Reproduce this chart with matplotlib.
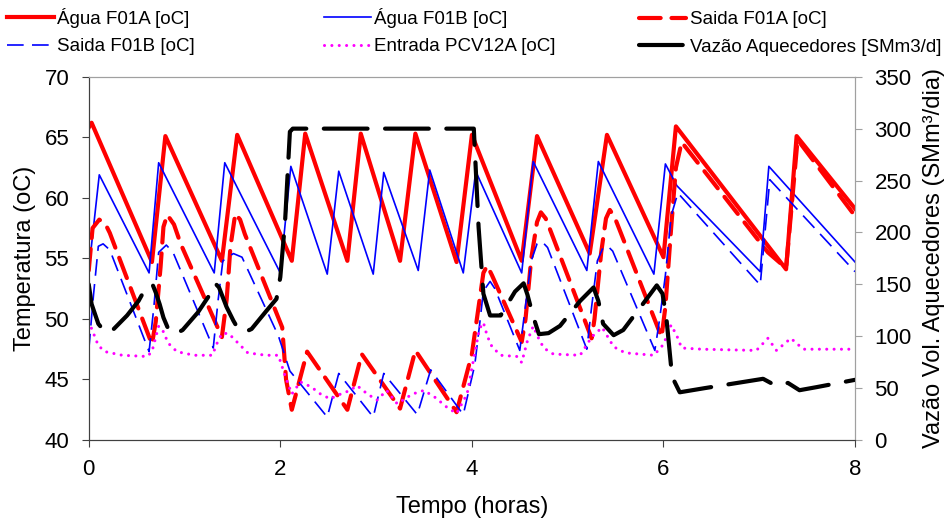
import matplotlib
matplotlib.use("Agg")
import matplotlib.pyplot as plt

plt.rcParams['font.family'] = ['Liberation Sans', 'DejaVu Sans']

# tempo (horas) e temperaturas
t_agua_a = [0.00, 0.03, 0.66, 0.80, 1.39, 1.55, 2.12, 2.26, 2.70, 2.84, 3.25, 3.41,
            3.84, 4.00, 4.52, 4.68, 5.23, 5.41, 6.00, 6.13, 7.28, 7.39, 8.00]
agua_a = [65.8, 66.2, 54.7, 65.1, 54.8, 65.2, 54.8, 65.3, 54.8, 65.3, 54.8, 65.3,
          54.7, 65.2, 54.8, 65.1, 55.4, 65.2, 55.1, 65.9, 54.1, 65.1, 59.1]

t_agua_b = [0.00, 0.11, 0.63, 0.73, 1.31, 1.42, 2.00, 2.11, 2.49, 2.61, 2.97, 3.08, 3.44,
            3.56, 3.91, 4.04, 4.52, 4.64, 5.20, 5.32, 5.90, 6.02, 6.14, 7.01, 7.10, 8.00]
agua_b = [54.0, 61.9, 53.8, 62.9, 53.8, 62.9, 53.8, 62.6, 53.7, 62.2, 53.7, 62.1, 54.0,
          62.3, 53.8, 62.2, 53.8, 63.0, 54.0, 63.0, 53.7, 62.8, 61.0, 53.9, 62.6, 54.7]

t_saida_a = [0.00, 0.04, 0.11, 0.17, 0.22, 0.66, 0.70, 0.75, 0.78, 0.82, 0.89, 0.96,
             1.39, 1.44, 1.48, 1.53, 1.58, 1.63, 2.02, 2.06, 2.12, 2.28, 2.70, 2.85,
             3.25, 3.41, 3.84, 4.00, 4.07, 4.12, 4.16, 4.21, 4.52, 4.56, 4.62, 4.68,
             4.72, 4.77, 4.82, 5.25, 5.28, 5.35, 5.40, 5.44, 5.49, 5.54, 5.98, 6.02,
             6.08, 6.13, 6.19, 7.09, 7.28, 7.40, 8.00]
saida_a = [54.0, 57.5, 58.2, 57.9, 57.1, 47.9, 49.8, 54.3, 57.6, 58.6, 57.8, 56.2,
           48.5, 51.6, 56.0, 58.7, 58.2, 57.0, 49.3, 45.0, 42.5, 47.3, 42.5, 47.1,
           42.6, 47.4, 42.3, 47.1, 51.0, 53.8, 54.4, 53.6, 48.1, 50.0, 55.0, 58.0,
           58.8, 58.3, 57.3, 48.4, 50.0, 55.5, 58.3, 59.0, 58.4, 57.4, 48.5, 51.0,
           57.5, 62.5, 64.6, 55.5, 54.2, 64.8, 58.5]

t_saida_b = [0.00, 0.05, 0.10, 0.15, 0.22, 0.63, 0.68, 0.73, 0.81, 0.88, 1.30, 1.35,
             1.40, 1.51, 1.60, 1.98, 2.10, 2.49, 2.61, 2.97, 3.08, 3.43, 3.57, 3.91,
             4.03, 4.08, 4.12, 4.19, 4.24, 4.50, 4.55, 4.62, 4.68, 4.73, 4.79, 5.20,
             5.25, 5.31, 5.37, 5.42, 5.47, 5.91, 5.96, 6.02, 6.08, 6.15, 7.01, 7.11, 8.00]
saida_b = [47.4, 52.0, 56.0, 56.2, 55.7, 47.3, 51.0, 55.5, 56.1, 55.5, 47.6, 51.5,
           54.8, 55.4, 55.1, 48.6, 45.7, 41.9, 45.5, 41.9, 45.5, 42.1, 45.8, 42.1,
           46.2, 49.5, 52.3, 53.1, 52.5, 47.4, 50.5, 54.8, 56.2, 56.4, 55.9, 47.5,
           51.0, 54.8, 55.9, 56.0, 55.6, 47.4, 50.0, 53.6, 58.5, 60.4, 52.8, 61.5, 53.9]

t_entrada = [0.00, 0.05, 0.10, 0.17, 0.35, 0.61, 0.66, 0.70, 0.73, 0.77,
             0.83, 0.92, 1.10, 1.29, 1.34, 1.39, 1.46, 1.56, 1.66, 1.85,
             1.98, 2.05, 2.12, 2.21, 2.32, 2.42, 2.52, 2.63, 2.73, 2.80,
             2.91, 3.01, 3.11, 3.22, 3.38, 3.50, 3.62, 3.74, 3.84, 3.95,
             4.03, 4.08, 4.12, 4.16, 4.21, 4.30, 4.47, 4.52, 4.58, 4.64,
             4.69, 4.75, 4.85, 5.13, 5.25, 5.36, 5.42, 5.48, 5.60, 5.90,
             6.00, 6.08, 6.14, 6.19, 6.40, 6.97, 7.09, 7.18, 7.33, 7.46, 8.00]
entrada = [49.8, 48.8, 47.8, 47.3, 47.0, 46.9, 47.3, 48.5, 49.4, 49.1,
           48.0, 47.3, 47.0, 47.0, 48.0, 48.8, 48.8, 48.0, 47.2, 47.0,
           47.0, 45.3, 43.8, 44.8, 44.4, 43.8, 43.4, 43.8, 44.1, 44.5,
           43.8, 43.3, 44.1, 43.0, 43.8, 44.1, 43.5, 42.7, 42.2, 43.8,
           47.2, 49.2, 49.7, 48.6, 47.7, 47.0, 46.9, 46.4, 48.2, 49.4,
           48.5, 47.6, 47.1, 47.0, 48.5, 49.3, 48.5, 47.7, 47.2, 47.0,
           47.9, 49.5, 48.6, 47.6, 47.5, 47.4, 48.4, 47.4, 48.4, 47.5, 47.5]

# vazao (eixo secundario)
t_vazao = [0.00, 0.03, 0.10, 0.17, 0.24, 0.40, 0.52, 0.61, 0.67, 0.70,
           0.74, 0.78, 0.83, 0.90, 0.98, 1.14, 1.27, 1.32, 1.36, 1.44,
           1.51, 1.56, 1.63, 1.70, 1.86, 1.96, 2.00, 2.05, 2.10, 2.13,
           4.02, 4.07, 4.12, 4.19, 4.30, 4.45, 4.54, 4.58, 4.64, 4.70,
           4.80, 4.92, 5.13, 5.27, 5.32, 5.37, 5.48, 5.58, 5.76, 5.93,
           5.99, 6.03, 6.09, 6.17, 6.43, 7.04, 7.16, 7.30, 7.42, 7.60, 8.00]
vazao = [150, 131, 112, 104, 105, 120, 134, 149, 149, 142,
         131, 118, 107, 102, 106, 123, 141, 151, 147, 128,
         115, 107, 104, 107, 125, 136, 157, 211, 297, 300,
         300, 205, 141, 120, 120, 143, 151, 140, 119, 102,
         103, 110, 134, 147, 134, 112, 101, 106, 128, 149,
         141, 118, 61, 46, 50, 59, 53, 55, 48, 51, 58]

x_ticks = [0, 2, 4, 6, 8]
temp_ticks = [40, 45, 50, 55, 60, 65, 70]
vazao_ticks = [0, 50, 100, 150, 200, 250, 300, 350]


def main():
    fig = plt.figure(figsize=(9.47, 5.22), dpi=100)
    ax = fig.add_axes([0.0937, 0.157, 0.8092, 0.696])
    ax2 = ax.twinx()

    l1, = ax.plot(t_agua_a, agua_a, color='#ff0000', lw=3, label='Água F01A [oC]')
    l2, = ax.plot(t_agua_b, agua_b, color='#0000ff', lw=1.2, label='Água F01B [oC]')
    l3, = ax.plot(t_saida_a, saida_a, color='#ff0000', lw=3, dashes=(5.2, 2.6),
                  dash_capstyle='round', label='Saida F01A [oC]')
    l4, = ax.plot(t_saida_b, saida_b, color='#0000ff', lw=1.2, dashes=(10, 5),
                  label='Saida F01B [oC]')
    l5, = ax.plot(t_entrada, entrada, color='#ff00ff', lw=2.2, dashes=(0.01, 2.4),
                  dash_capstyle='round', label='Entrada PCV12A [oC]')
    l6, = ax2.plot(t_vazao, vazao, color='black', lw=3, dashes=(10.5, 4.2),
                   dash_capstyle='round', label='Vazão Aquecedores [SMm3/d]')

    ax.set_xlim(0, 8)
    ax.set_ylim(40, 70)
    ax2.set_ylim(0, 350)
    ax.set_xticks(x_ticks)
    ax.set_yticks(temp_ticks)
    ax2.set_yticks(vazao_ticks)

    for a in (ax, ax2):
        a.spines['left'].set_color('#404040')
        a.spines['bottom'].set_color('#404040')
        a.spines['top'].set_color('#a0a0a0')
        a.spines['right'].set_color('#a0a0a0')
    ax.tick_params(axis='y', direction='out', length=5, color='#404040', labelsize=16, pad=9)
    ax.tick_params(axis='x', direction='out', length=5, color='#404040', labelsize=16, pad=9)
    ax2.tick_params(axis='y', direction='out', length=5, color='#a0a0a0', labelsize=16, pad=9)

    ax.set_xlabel('Tempo (horas)', fontsize=17, labelpad=11)
    ax.set_ylabel('Temperatura (oC)', fontsize=17, labelpad=6)
    ax2.set_ylabel('Vazão Vol. Aquecedores (SMm³/dia)', fontsize=17, labelpad=8)

    # legenda em 3 colunas no topo (coluna 3 sem acento na 1a linha -> desce um pouco)
    handles = [l1, l2, l3, l4, l5, l6]
    col_x = [0.007, 0.342, 0.675]
    col_y = [0.985, 0.985, 0.979]
    for i in range(3):
        fig.legend(handles=[handles[i], handles[i + 3]], loc='upper left',
                   bbox_to_anchor=(col_x[i], col_y[i]), frameon=False, fontsize=13.5,
                   handlelength=2.5, handletextpad=0.2, labelspacing=0.55,
                   borderpad=0, borderaxespad=0)

    fig.savefig('out.png', dpi=100)


if __name__ == '__main__':
    main()
